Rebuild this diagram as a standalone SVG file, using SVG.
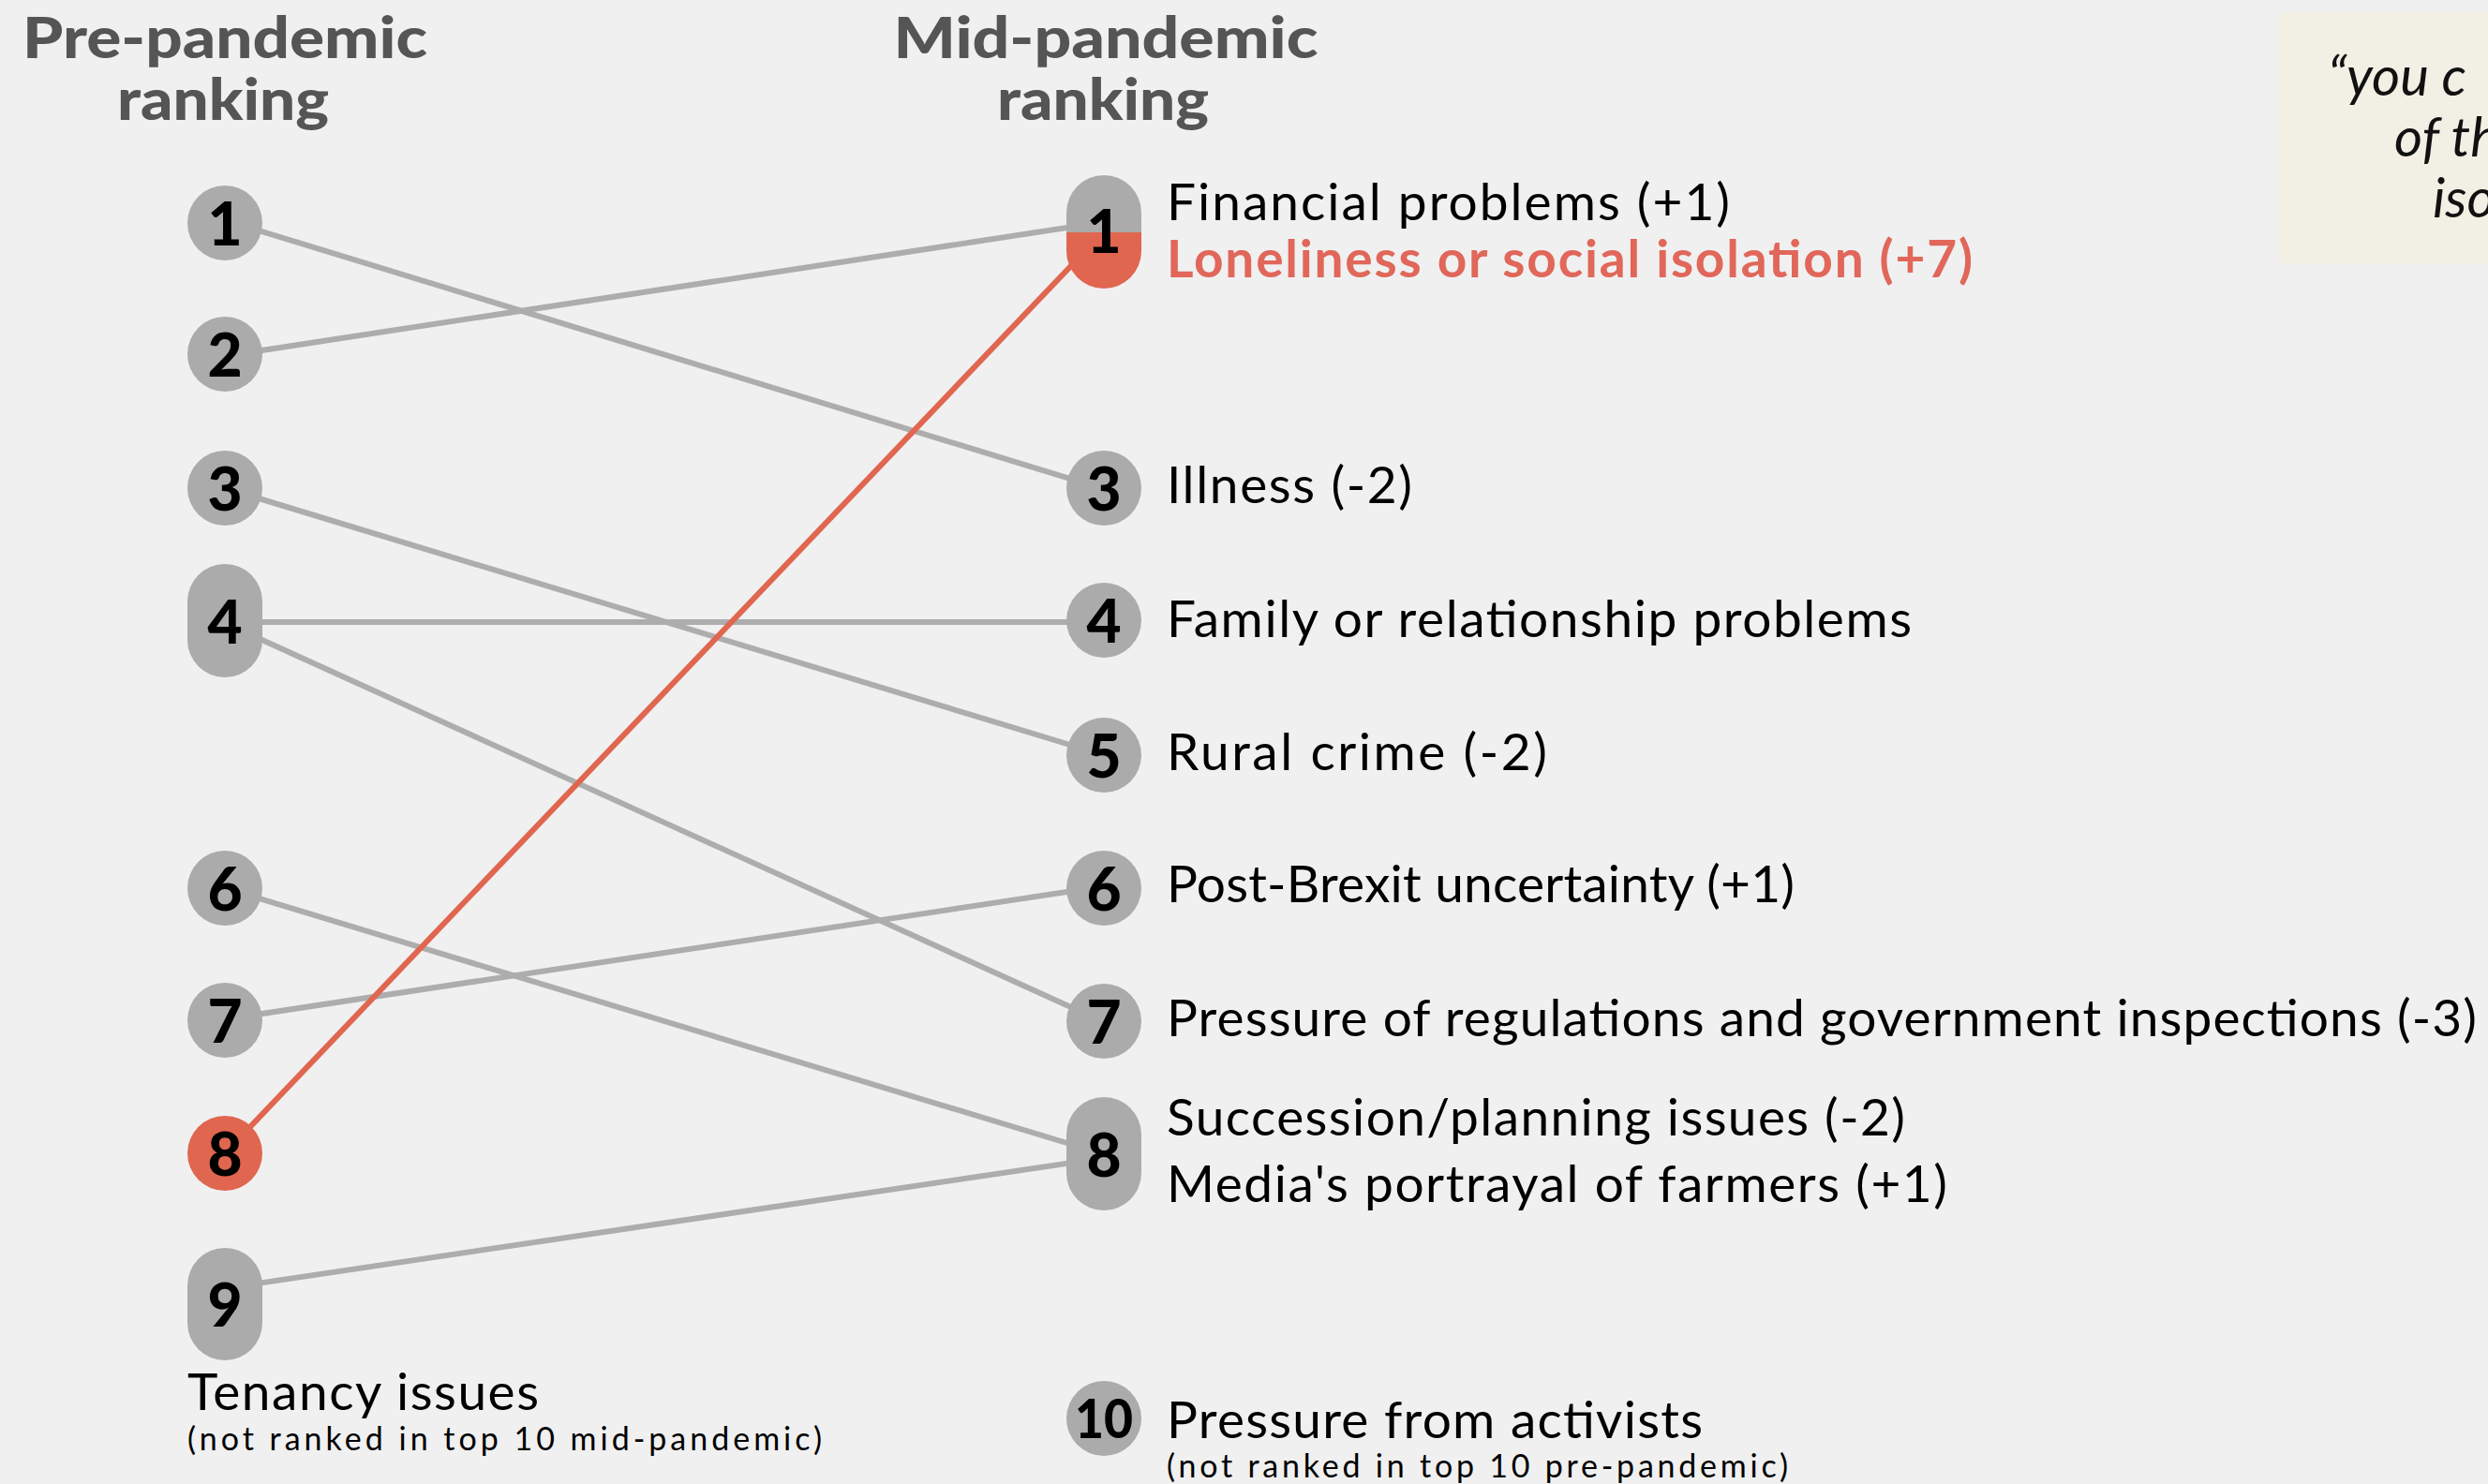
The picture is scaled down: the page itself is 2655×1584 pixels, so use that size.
<svg xmlns="http://www.w3.org/2000/svg" width="2655" height="1584" viewBox="0 0 2655 1584">
<style>
.hd{font-family:Lato,"Noto Sans",sans-serif;font-weight:900;font-size:60px;fill:#555555;text-anchor:middle}
.num{font-family:Lato,"Noto Sans",sans-serif;font-weight:900;font-size:64px;fill:#000;text-anchor:middle}
.lbl{font-family:Lato,"Open Sans",sans-serif;font-weight:400;font-size:55px;fill:#000}
.red{font-weight:700;fill:#e0675a}
.sub{font-family:Lato,"Open Sans",sans-serif;font-weight:400;font-size:34px;fill:#000}
.quote{font-family:Lato,"Open Sans",sans-serif;font-style:italic;font-weight:400;font-size:58px;fill:#111}
.g{fill:#ababab}
.r{fill:#e0664f}
.cg{stroke:#adadad;stroke-width:6;fill:none}
.cr{stroke:#e0664f;stroke-width:6;fill:none}
</style>
<rect width="2655" height="1584" fill="#f0f0f0"/>

<g id="headers">
<text class="hd" x="240" y="62" textLength="432" lengthAdjust="spacingAndGlyphs">Pre-pandemic</text>
<text class="hd" x="238" y="128" textLength="226" lengthAdjust="spacingAndGlyphs">ranking</text>
<text class="hd" x="1180" y="62" textLength="453" lengthAdjust="spacingAndGlyphs">Mid-pandemic</text>
<text class="hd" x="1177" y="128" textLength="226" lengthAdjust="spacingAndGlyphs">ranking</text>
</g>

<g id="quote">
<rect x="2431" y="14" width="260" height="267" fill="#f2f0e4"/>
<text class="quote" x="2484" y="102">“you c</text>
<text class="quote" x="2555" y="167">of th</text>
<text class="quote" x="2596" y="232">iso</text>
</g>

<g id="connectors">
<line class="cg" x1="240" y1="235" x2="1178" y2="522"/>
<line class="cg" x1="240" y1="380" x2="1178" y2="237"/>
<line class="cg" x1="240" y1="521" x2="1178" y2="806"/>
<line class="cg" x1="240" y1="664" x2="1178" y2="664"/>
<line class="cg" x1="240" y1="665" x2="1178" y2="1091"/>
<line class="cg" x1="240" y1="948" x2="1178" y2="1232"/>
<line class="cg" x1="240" y1="1088" x2="1178" y2="946"/>
<line class="cg" x1="240" y1="1375" x2="1178" y2="1236"/>
<line class="cr" x1="240" y1="1231" x2="1178" y2="247"/>
</g>

<g id="pre-1"><circle class="g" cx="240" cy="238" r="40"/><text class="num" x="240" y="262">1</text></g>
<g id="pre-2"><circle class="g" cx="240" cy="378" r="40"/><text class="num" x="240" y="402">2</text></g>
<g id="pre-3"><circle class="g" cx="240" cy="521" r="40"/><text class="num" x="240" y="545">3</text></g>
<g id="pre-4"><rect class="g" x="200" y="602" width="80" height="121" rx="40"/><text class="num" x="240" y="687">4</text></g>
<g id="pre-6"><circle class="g" cx="240" cy="948" r="40"/><text class="num" x="240" y="972">6</text></g>
<g id="pre-7"><circle class="g" cx="240" cy="1089" r="40"/><text class="num" x="240" y="1113">7</text></g>
<g id="pre-8"><circle class="r" cx="240" cy="1231" r="40"/><text class="num" x="240" y="1255">8</text></g>
<g id="pre-9"><rect class="g" x="200" y="1332" width="80" height="120" rx="40"/><text class="num" x="240" y="1416">9</text>
<text class="lbl" x="200" y="1505" textLength="375" lengthAdjust="spacing">Tenancy issues</text>
<text class="sub" x="200" y="1548" textLength="677" lengthAdjust="spacing">(not ranked in top 10 mid-pandemic)</text></g>

<g id="mid-1">
<path class="g" d="M1138,248 V227 A40,40 0 0 1 1218,227 V248 Z"/>
<path class="r" d="M1138,248 H1218 V268 A40,40 0 0 1 1138,268 Z"/>
<text class="num" x="1178" y="270">1</text>
<text class="lbl" x="1245" y="235" textLength="601" lengthAdjust="spacing">Financial problems (+1)</text>
<text class="lbl red" x="1245" y="296" textLength="860" lengthAdjust="spacing">Loneliness or social isolation (+7)</text>
</g>
<g id="mid-3"><circle class="g" cx="1178" cy="521" r="40"/><text class="num" x="1178" y="545">3</text>
<text class="lbl" x="1245" y="537" textLength="262" lengthAdjust="spacing">Illness (-2)</text></g>
<g id="mid-4"><circle class="g" cx="1178" cy="662" r="40"/><text class="num" x="1178" y="686">4</text>
<text class="lbl" x="1245" y="680" textLength="795" lengthAdjust="spacing">Family or relationship problems</text></g>
<g id="mid-5"><circle class="g" cx="1178" cy="806" r="40"/><text class="num" x="1178" y="830">5</text>
<text class="lbl" x="1245" y="822" textLength="406" lengthAdjust="spacing">Rural crime (-2)</text></g>
<g id="mid-6"><circle class="g" cx="1178" cy="948" r="40"/><text class="num" x="1178" y="972">6</text>
<text class="lbl" x="1245" y="963" textLength="670" lengthAdjust="spacing">Post-Brexit uncertainty (+1)</text></g>
<g id="mid-7"><circle class="g" cx="1178" cy="1090" r="40"/><text class="num" x="1178" y="1114">7</text>
<text class="lbl" x="1245" y="1106" textLength="1398" lengthAdjust="spacing">Pressure of regulations and government inspections (-3)</text></g>
<g id="mid-8"><rect class="g" x="1138" y="1171" width="80" height="121" rx="40"/><text class="num" x="1178" y="1256">8</text>
<text class="lbl" x="1245" y="1212" textLength="788" lengthAdjust="spacing">Succession/planning issues (-2)</text>
<text class="lbl" x="1245" y="1283" textLength="833" lengthAdjust="spacing">Media's portrayal of farmers (+1)</text></g>
<g id="mid-10"><circle class="g" cx="1178" cy="1514" r="40"/><text class="num" x="1178" y="1535" textLength="62" lengthAdjust="spacingAndGlyphs" style="font-size:58px">10</text>
<text class="lbl" x="1245" y="1535" textLength="572" lengthAdjust="spacing">Pressure from activists</text>
<text class="sub" x="1245" y="1577" textLength="663" lengthAdjust="spacing">(not ranked in top 10 pre-pandemic)</text></g>
</svg>
